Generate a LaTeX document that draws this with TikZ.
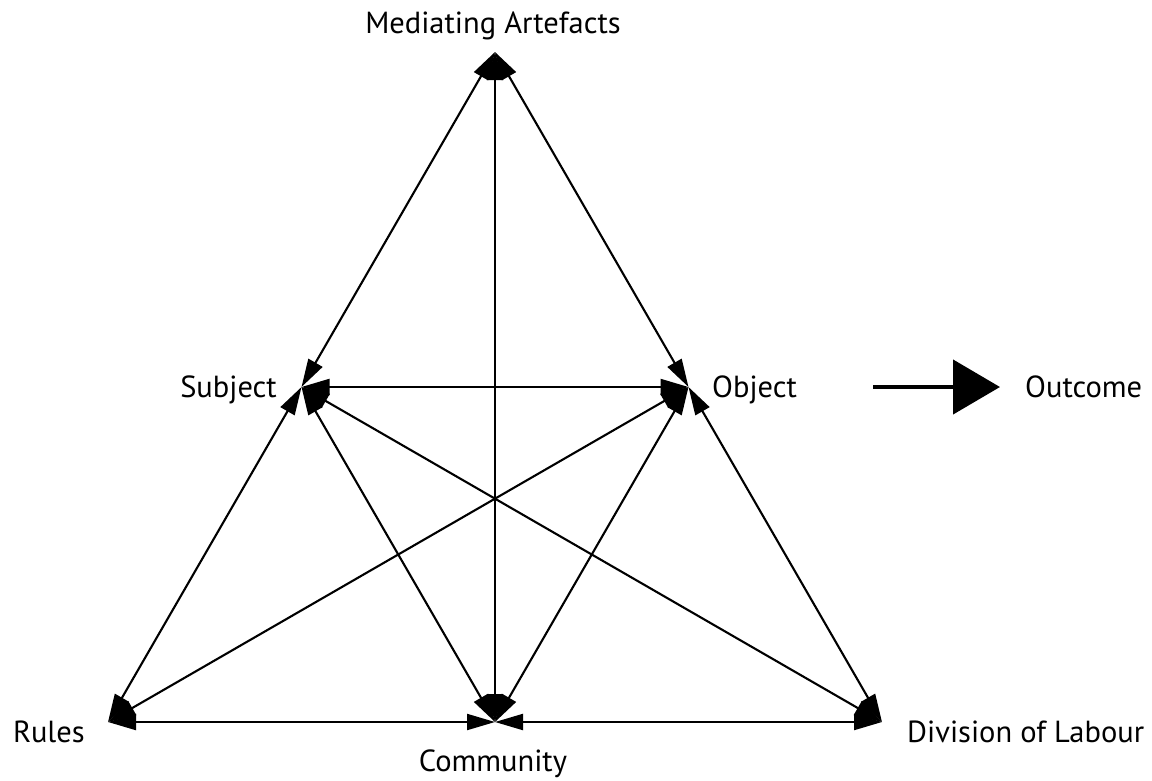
\documentclass[tikz,border=0pt]{standalone}
\usepackage{fontspec}
\setmainfont{PT Sans}
\usetikzlibrary{arrows.meta}
\begin{document}
\begin{tikzpicture}[x=1pt,y=-1pt,
  link/.style={line width=2.1pt,{Triangle[length=28pt,width=16pt]}-{Triangle[length=28pt,width=16pt]}},
  outarrow/.style={line width=4.5pt,-{Triangle[length=47pt,width=54pt]}},
  lbl/.style={font=\fontsize{30.5}{36}\selectfont,inner sep=0pt}]
\useasboundingbox (0,0) rectangle (1152,780);
% corners of the activity triangle and the midpoints of its sides
\coordinate (art) at (495,52);
\coordinate (rul) at (108,722);
\coordinate (div) at (882,722);
\coordinate (sub) at (301.5,387);
\coordinate (obj) at (688.5,387);
\coordinate (com) at (495,722);
% labels
\node[lbl,anchor=base] (tart) at (493,33) {Mediating Artefacts};
\node[lbl,anchor=base east] (tsub) at (277,397) {Subject};
\node[lbl,anchor=base west] (tobj) at (712,397) {Object};
\node[lbl,anchor=base west] (tout) at (1025,397) {Outcome};
\node[lbl,anchor=base west] (trul) at (13,742) {Rules};
\node[lbl,anchor=base] (tcom) at (493,771) {Community};
\node[lbl,anchor=base west] (tdiv) at (907,742) {Division of Labour};
% two-way relations
\draw[link] (art) -- (sub);
\draw[link] (art) -- (obj);
\draw[link] (art) -- (com);
\draw[link] (sub) -- (obj);
\draw[link] (sub) -- (rul);
\draw[link] (sub) -- (com);
\draw[link] (sub) -- (div);
\draw[link] (obj) -- (rul);
\draw[link] (obj) -- (com);
\draw[link] (obj) -- (div);
\draw[link] (rul) -- (com);
\draw[link] (com) -- (div);
% outcome arrow
\coordinate (os) at (873,387);
\coordinate (oe) at (1000,387);
\draw[outarrow] (os) -- (oe);
\end{tikzpicture}
\end{document}
